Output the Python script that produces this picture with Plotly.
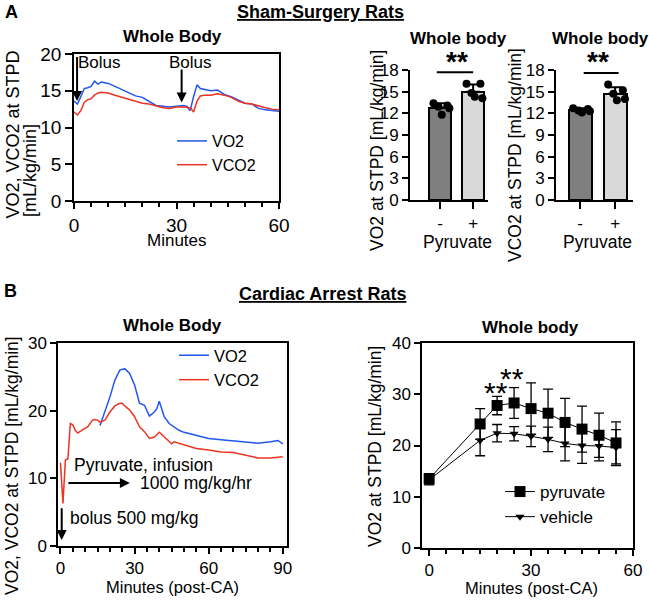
import plotly.graph_objects as go

W, H = 649, 600
FONT = "Liberation Sans, Arial, sans-serif"

def px(x):
    return x / W

def py(y):
    return 1 - y / H

# ---------------- DATA ----------------
# Panel A: sham-surgery time course (minutes)
a_vo2_t = [0, 1, 2, 3, 4, 5, 6, 7, 8, 9, 10, 12, 14, 16, 18, 20, 22, 24, 26, 28, 30, 32, 33, 34,
           35, 36, 37, 38, 40, 42, 44, 46, 48, 50, 52, 54, 56, 58, 60]
a_vo2 = [13.6, 13.2, 14.2, 15.3, 15.4, 15.6, 16.3, 15.9, 16.2, 16.1, 16.0, 15.6, 15.2, 14.7, 14.3,
         14.1, 13.5, 13.0, 12.9, 12.8, 12.9, 13.0, 12.9, 12.3, 14.2, 15.8, 15.3, 15.2, 15.0, 15.1,
         14.5, 14.2, 13.7, 13.3, 13.2, 12.6, 12.4, 12.3, 12.2]
a_vco2_t = [0, 1, 2, 3, 4, 5, 6, 7, 8, 10, 12, 14, 16, 18, 20, 22, 24, 26, 28, 30, 32, 34, 35, 36,
            37, 38, 40, 42, 44, 46, 48, 50, 52, 54, 56, 58, 60]
a_vco2 = [12.1, 11.7, 12.3, 13.4, 13.8, 13.9, 14.4, 14.7, 14.8, 14.7, 14.4, 14.1, 13.8, 13.6, 13.3,
          13.2, 12.9, 12.7, 12.6, 12.8, 12.8, 12.7, 12.1, 13.6, 14.3, 14.4, 14.4, 14.6, 14.4, 14.1,
          13.6, 13.3, 13.2, 12.9, 12.7, 12.5, 12.4]

# Panel A: bar charts (pyruvate - / +)
bar_groups = [0, 1]
bar_labels = ["-", "+"]
vo2_means = [12.8, 15.0]
vo2_sd = [0.6, 1.0]
vo2_dots = [[13.4, 13.1, 12.9, 12.7, 11.8], [16.1, 16.1, 14.8, 14.1, 14.3]]
vco2_means = [12.4, 14.7]
vco2_sd = [0.3, 0.9]
vco2_dots = [[12.7, 12.6, 12.4, 12.3, 12.1], [16.0, 15.2, 14.7, 14.0, 13.8]]
dot_jitter = [-0.2, 0.22, -0.05, 0.28, 0.05]

# Panel B: cardiac arrest time course (minutes post-CA)
b_vco2_t = [0, 1, 2, 3, 4, 5, 6, 7, 9, 11, 13, 14, 15, 16, 18, 20, 22, 24, 25, 26, 28, 30, 32, 34,
            36, 38, 40, 42, 44, 45, 46, 48, 50, 55, 60, 65, 70, 75, 80, 85, 90]
b_vco2 = [12.3, 6.3, 12.7, 12.9, 18.1, 17.9, 17.1, 16.7, 17.2, 17.6, 18.6, 18.7, 18.6, 18.3, 18.6,
          19.8, 20.7, 21.1, 21.1, 20.7, 20.1, 19.1, 17.6, 16.9, 15.9, 16.1, 16.8, 16.1, 15.5, 15.1,
          15.4, 15.2, 14.9, 14.4, 14.2, 13.9, 13.8, 13.4, 13.0, 13.0, 13.2]
b_vo2_t = [16, 18, 20, 22, 24, 26, 28, 30, 32, 34, 36, 38, 39, 40, 41, 42, 44, 46, 48, 50, 55, 60,
           65, 70, 75, 80, 85, 88, 90]
b_vo2 = [17.8, 19.8, 22.0, 24.5, 26.0, 26.2, 25.5, 23.8, 21.1, 20.8, 19.2, 19.8, 20.3, 21.4, 20.3,
         19.1, 18.1, 17.6, 17.1, 16.8, 16.4, 15.9, 15.7, 15.5, 15.4, 15.2, 15.4, 15.6, 15.1]

# Panel B: group means +/- SD
grp_t = [0, 15, 20, 25, 30, 35, 40, 45, 50, 55]
pyr_mean = [13.5, 24.2, 27.8, 28.3, 27.2, 26.3, 24.5, 23.2, 22.0, 20.5]
pyr_sd = [1.0, 3.0, 1.8, 3.0, 5.0, 4.7, 4.7, 4.5, 4.3, 4.1]
veh_mean = [13.3, 21.0, 22.4, 22.3, 21.8, 21.2, 20.4, 20.0, 19.9, 19.6]
veh_sd = [1.0, 3.0, 1.7, 1.4, 2.0, 2.4, 3.4, 3.5, 2.9, 3.5]
star_t = [19.7, 24.4]
star_y = [30.4, 33.1]

# ---------------- FIGURE ----------------
BLUE = "#2255ee"
RED = "#ee3322"
fig = go.Figure()

# A time course
fig.add_trace(go.Scatter(x=a_vo2_t, y=a_vo2, mode="lines", name="VO2",
                         line=dict(color=BLUE, width=1.5), xaxis="x", yaxis="y", legend="legend"))
fig.add_trace(go.Scatter(x=a_vco2_t, y=a_vco2, mode="lines", name="VCO2",
                         line=dict(color=RED, width=1.5), xaxis="x", yaxis="y", legend="legend"))

# A bar charts
def add_bar(means, sd, dots, xa, ya):
    fig.add_trace(go.Bar(x=bar_groups, y=means, width=0.66,
                         marker=dict(color=["#7f7f7f", "#d9d9d9"], line=dict(color="black", width=2)),
                         error_y=dict(type="data", array=sd, arrayminus=[0, 0], symmetric=False,
                                      color="black", thickness=2, width=7),
                         xaxis=xa, yaxis=ya, showlegend=False))
    for g, vals in zip(bar_groups, dots):
        fig.add_trace(go.Scatter(x=[g + j for j in dot_jitter[:len(vals)]], y=vals, mode="markers",
                                 marker=dict(color="black", size=8), xaxis=xa, yaxis=ya,
                                 showlegend=False))

add_bar(vo2_means, vo2_sd, vo2_dots, "x2", "y2")
add_bar(vco2_means, vco2_sd, vco2_dots, "x3", "y3")

# B time course
fig.add_trace(go.Scatter(x=b_vo2_t, y=b_vo2, mode="lines", name="VO2",
                         line=dict(color=BLUE, width=1.5), xaxis="x4", yaxis="y4", legend="legend2"))
fig.add_trace(go.Scatter(x=b_vco2_t, y=b_vco2, mode="lines", name="VCO2",
                         line=dict(color=RED, width=1.5), xaxis="x4", yaxis="y4", legend="legend2"))

# B group means
fig.add_trace(go.Scatter(x=grp_t, y=pyr_mean, mode="lines+markers", name="pyruvate",
                         line=dict(color="black", width=1),
                         marker=dict(symbol="square", size=11, color="black"),
                         error_y=dict(type="data", array=pyr_sd, color="black", thickness=1.3, width=5),
                         xaxis="x5", yaxis="y5", legend="legend3"))
fig.add_trace(go.Scatter(x=grp_t, y=veh_mean, mode="lines+markers", name="vehicle",
                         line=dict(color="black", width=1),
                         marker=dict(symbol="triangle-down", size=8, color="black"),
                         error_y=dict(type="data", array=veh_sd, color="black", thickness=1.3, width=5),
                         xaxis="x5", yaxis="y5", legend="legend3"))

# ---------------- AXES ----------------
def ax(**kw):
    base = dict(showline=True, linecolor="black", linewidth=1.5, ticks="outside", ticklen=6,
                tickwidth=1.5, tickcolor="black", showgrid=False, zeroline=False, automargin=False,
                tickfont=dict(size=17, color="black", family=FONT))
    base.update(kw)
    return base

minor5 = dict(ticks="outside", ticklen=4, tickwidth=1.5, tickcolor="black", dtick=5, tick0=0,
              showgrid=False)

layout = dict(
    width=W, height=H, margin=dict(l=0, r=0, t=0, b=0, pad=0, autoexpand=False),
    paper_bgcolor="white", plot_bgcolor="white",
    font=dict(family=FONT, color="black", size=16),
    bargap=0,
    xaxis=ax(domain=[px(74), px(279)], range=[0, 60], tickvals=[0, 30, 60], anchor="y",
             mirror=True, minor=minor5, tickfont=dict(size=19)),
    yaxis=ax(domain=[py(201), py(54)], range=[0, 20], dtick=5, anchor="x", mirror=True,
             tickfont=dict(size=19), ticklen=7),
    xaxis2=ax(domain=[px(410), px(488)], range=[-0.91, 1.45], tickvals=bar_groups,
              ticktext=bar_labels, anchor="y2", linewidth=2, tickwidth=2, ticklen=7),
    yaxis2=ax(domain=[py(200), py(70)], range=[0, 18], dtick=3, anchor="x2", linewidth=2,
              tickwidth=2),
    xaxis3=ax(domain=[px(556), px(633)], range=[-0.69, 1.51], tickvals=bar_groups,
              ticktext=bar_labels, anchor="y3", linewidth=2, tickwidth=2, ticklen=7),
    yaxis3=ax(domain=[py(200), py(70)], range=[0, 18], dtick=3, anchor="x3", linewidth=2,
              tickwidth=2),
    xaxis4=ax(domain=[px(58), px(287)], range=[-1, 91.7], tickvals=[0, 30, 60, 90], anchor="y4",
              mirror=True, minor=minor5),
    yaxis4=ax(domain=[py(546), py(343)], range=[0, 30], dtick=10, anchor="x4", mirror=True),
    xaxis5=ax(domain=[px(422), px(633)], range=[-2.1, 60], tickvals=[0, 30, 60], anchor="y5",
              mirror=True, minor=minor5),
    yaxis5=ax(domain=[py(548), py(343)], range=[0, 40], dtick=10, anchor="x5", mirror=True),
    legend=dict(x=px(172), y=py(124), xanchor="left", yanchor="top", bgcolor="rgba(0,0,0,0)",
                font=dict(size=16), itemwidth=30, tracegroupgap=0),
    legend2=dict(x=px(174), y=py(338), xanchor="left", yanchor="top", bgcolor="rgba(0,0,0,0)",
                 font=dict(size=16.5), itemwidth=30, tracegroupgap=0),
    legend3=dict(x=px(500), y=py(474), xanchor="left", yanchor="top", bgcolor="rgba(0,0,0,0)",
                 font=dict(size=17), itemwidth=30, tracegroupgap=0),
)

ann = []

def ptext(text, x, y, size=16, bold=False, angle=0, xanchor="center"):
    t = f"<b>{text}</b>" if bold else text
    ann.append(dict(text=t, x=px(x), y=py(y), xref="paper", yref="paper", showarrow=False,
                    xanchor=xanchor, yanchor="middle", textangle=angle,
                    font=dict(size=size, family=FONT, color="black")))

# headers
ptext("A", 11, 12, size=18, bold=True)
ptext("<u>Sham-Surgery Rats</u>", 320, 12, size=18, bold=True)
ptext("B", 10, 291, size=18, bold=True)
ptext("<u>Cardiac Arrest Rats</u>", 322, 294, size=18, bold=True)

# titles
ptext("Whole Body", 172, 36, size=17, bold=True)
ptext("Whole body", 458, 38, size=17, bold=True)
ptext("Whole body", 600, 38, size=17, bold=True)
ptext("Whole Body", 172, 325, size=17, bold=True)
ptext("Whole body", 530, 327, size=17, bold=True)

# axis titles
ptext("VO2, VCO2 at STPD", 12.5, 135, size=18, angle=-90)
ptext("[mL/kg/min]", 30, 171, size=18, angle=-90)
ptext("Minutes", 177, 241, size=17)
ptext("VO2 at STPD [mL/kg/min]", 377, 151, size=17.5, angle=-90)
ptext("VCO2 at STPD [mL/kg/min]", 515, 155, size=17.5, angle=-90)
ptext("Pyruvate", 457, 242, size=17.5)
ptext("Pyruvate", 597, 242, size=17.5)
ptext("VO2, VCO2 at STPD [mL/kg/min]", 12, 466, size=17.5, angle=-90)
ptext("Minutes (post-CA)", 172, 587, size=16.5)
ptext("VO2 at STPD [mL/kg/min]", 375, 447, size=17.5, angle=-90)
ptext("Minutes (post-CA)", 531, 588, size=16.5)

# significance stars for bar charts (paper coordinates, above the axes)
ptext("**", 457, 62, size=28, bold=True)
ptext("**", 598, 62, size=28, bold=True)
for st, sy in zip(star_t, star_y):
    ann.append(dict(text="**", x=st, y=sy, xref="x5", yref="y5", showarrow=False,
                    font=dict(size=30, family=FONT), yanchor="middle"))

# data-coordinate annotations
def dtext(text, x, y, xr, yr, size=17, xanchor="left"):
    ann.append(dict(text=text, x=x, y=y, xref=xr, yref=yr, showarrow=False, xanchor=xanchor,
                    yanchor="middle", font=dict(size=size, family=FONT, color="black")))

def arrow(x, y, axv, ayv, xr, yr):
    ann.append(dict(text="", x=x, y=y, ax=axv, ay=ayv, xref=xr, yref=yr, axref=xr, ayref=yr,
                    showarrow=True, arrowhead=2, arrowsize=1, arrowwidth=2, arrowcolor="black",
                    standoff=0, startstandoff=0))

dtext("Bolus", 0.5, 18.9, "x", "y")
arrow(0.9, 13.6, 0.9, 19.8, "x", "y")
dtext("Bolus", 34, 18.9, "x", "y", xanchor="center")
arrow(31.5, 13.4, 31.5, 18.1, "x", "y")

dtext("Pyruvate, infusion", 4.7, 12.0, "x4", "y4", size=17.5)
arrow(28.1, 9.3, 2.6, 9.3, "x4", "y4")
dtext("1000 mg/kg/hr", 31.4, 9.3, "x4", "y4", size=17.5)
dtext("bolus 500 mg/kg", 3.0, 4.1, "x4", "y4", size=17.5)
arrow(0.5, 0.9, 0.5, 5.8, "x4", "y4")

shapes = [
    dict(type="line", x0=-0.1, x1=1.0, y0=17.7, y1=17.7, xref="x2", yref="y2",
         line=dict(color="black", width=2)),
    dict(type="line", x0=0.1, x1=1.1, y0=17.6, y1=17.6, xref="x3", yref="y3",
         line=dict(color="black", width=2)),
]

layout["annotations"] = ann
layout["shapes"] = shapes
fig.update_layout(**layout)
fig.write_html("out.html", config={"displayModeBar": False},
               post_script="document.body.style.margin='0px';document.body.style.overflow='hidden';")
